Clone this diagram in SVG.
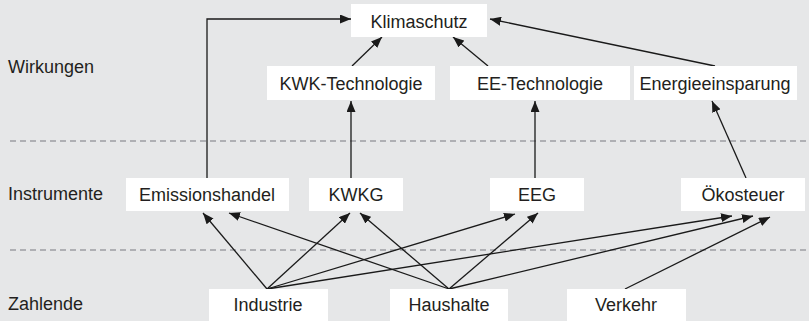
<svg xmlns="http://www.w3.org/2000/svg" width="809" height="321" viewBox="0 0 809 321">
<style>
.bg{fill:#e6e7e8}
.box{fill:#ffffff}
text{font-family:"Liberation Sans",Arial,sans-serif;font-size:18px;fill:#231f20}
.c{text-anchor:middle}
.dash{stroke:#9d9fa2;stroke-width:1.5;stroke-dasharray:6 4;fill:none}
.ln{stroke:#1a1a1a;stroke-width:1.3;fill:none;marker-end:url(#ah)}
</style>
<defs>
<marker id="ah" markerUnits="userSpaceOnUse" markerWidth="11" markerHeight="9" refX="11" refY="4.5" orient="auto">
<path d="M0,0 L11,4.5 L0,9 z" fill="#1a1a1a"/>
</marker>
</defs>
<rect class="bg" x="0" y="0" width="809" height="321"/>
<g id="dividers">
<line class="dash" x1="10" y1="141" x2="809" y2="141"/>
<line class="dash" x1="10" y1="250" x2="809" y2="250"/>
</g>
<g id="row-labels">
<text x="8" y="73">Wirkungen</text>
<text x="8" y="200">Instrumente</text>
<text x="8" y="310">Zahlende</text>
</g>
<g id="connectors">
<polyline class="ln" points="207,178 207,19 351,19"/>
<line class="ln" x1="352" y1="66" x2="382" y2="37"/>
<line class="ln" x1="488" y1="66" x2="453" y2="37"/>
<line class="ln" x1="715" y1="66" x2="490" y2="19"/>
<line class="ln" x1="351" y1="178" x2="351" y2="101"/>
<line class="ln" x1="535" y1="178" x2="535" y2="101"/>
<line class="ln" x1="746" y1="178" x2="712" y2="101"/>
<line class="ln" x1="267" y1="289" x2="203" y2="213"/>
<line class="ln" x1="267" y1="289" x2="350" y2="213"/>
<line class="ln" x1="267" y1="289" x2="515" y2="214"/>
<line class="ln" x1="267" y1="289" x2="732" y2="216"/>
<line class="ln" x1="449" y1="289" x2="229" y2="213"/>
<line class="ln" x1="449" y1="289" x2="360" y2="213"/>
<line class="ln" x1="449" y1="289" x2="538" y2="213"/>
<line class="ln" x1="449" y1="289" x2="753" y2="216"/>
<line class="ln" x1="625" y1="289" x2="770" y2="217"/>
</g>
<g id="klimaschutz"><rect class="box" x="351" y="4" width="136" height="33"/><text class="c" x="419" y="28">Klimaschutz</text></g>
<g id="kwk-technologie"><rect class="box" x="267" y="66" width="168" height="34"/><text class="c" x="351" y="90">KWK-Technologie</text></g>
<g id="ee-technologie"><rect class="box" x="450" y="66" width="180" height="34"/><text class="c" x="540" y="90">EE-Technologie</text></g>
<g id="energieeinsparung"><rect class="box" x="634" y="66" width="163" height="34"/><text class="c" x="715" y="90">Energieeinsparung</text></g>
<g id="emissionshandel"><rect class="box" x="126" y="178" width="163" height="33"/><text class="c" x="207" y="201">Emissionshandel</text></g>
<g id="kwkg"><rect class="box" x="309" y="178" width="94" height="33"/><text class="c" x="356" y="201">KWKG</text></g>
<g id="eeg"><rect class="box" x="490" y="178" width="94" height="33"/><text class="c" x="537" y="201">EEG</text></g>
<g id="oekosteuer"><rect class="box" x="681" y="178" width="124" height="33"/><text class="c" x="743" y="201">Ökosteuer</text></g>
<g id="industrie"><rect class="box" x="209" y="289" width="119" height="32"/><text class="c" x="268" y="311">Industrie</text></g>
<g id="haushalte"><rect class="box" x="390" y="289" width="118" height="32"/><text class="c" x="449" y="311">Haushalte</text></g>
<g id="verkehr"><rect class="box" x="567" y="289" width="119" height="32"/><text class="c" x="626" y="311">Verkehr</text></g>
</svg>
